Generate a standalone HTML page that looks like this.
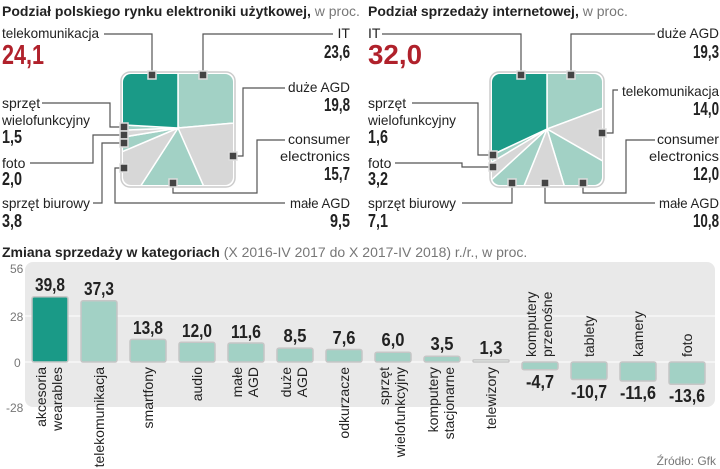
<!DOCTYPE html>
<html><head><meta charset="utf-8"><style>
html,body{margin:0;padding:0;background:#fff}
svg{display:block}
text{font-family:"Liberation Sans Narrow","Liberation Sans",sans-serif;fill:#222}
.t{font-size:14px}
.b{font-weight:bold;font-size:18px}
.r{font-weight:bold;font-size:28px;fill:#b0212b}
.ttl{font-family:"Liberation Sans",sans-serif;font-weight:bold;font-size:14px}
.g{font-weight:normal;fill:#777}
.ax{font-size:12px;fill:#777}
.cl{font-size:14px}
.ln{stroke:#555;stroke-width:1.2;fill:none}
.mk{fill:#444;stroke:#ddd;stroke-width:1.5}
.wd{stroke:#fff;stroke-width:1.5}
</style></head><body>
<svg width="720" height="469" viewBox="0 0 720 469">
<defs>
<clipPath id="c1"><rect x="123" y="74" width="110" height="111" rx="8"/></clipPath>
<clipPath id="c2"><rect x="492" y="74" width="110" height="111" rx="8"/></clipPath>
</defs>
<text x="2" y="16" class="ttl">Podział polskiego rynku elektroniki użytkowej,<tspan class="g"> w proc.</tspan></text>
<text x="368" y="16" class="ttl">Podział sprzedaży internetowej,<tspan class="g"> w proc.</tspan></text>

<rect x="121" y="72" width="114" height="115" rx="9" fill="#fff" stroke="#ccc" stroke-width="1.5"/>
<g clip-path="url(#c1)">
<polygon class="wd" fill="#a2d1c5" points="178,128 178,8 297.5,117.5"/>
<polygon class="wd" fill="#d7d7d7" points="178,128 297.5,117.5 226.4,237.8"/>
<polygon class="wd" fill="#a2d1c5" points="178,128 226.4,237.8 113,228.9"/>
<polygon class="wd" fill="#d7d7d7" points="178,128 113,228.9 67.5,174.9"/>
<polygon class="wd" fill="#a2d1c5" points="178,128 67.5,174.9 59.6,147.6"/>
<polygon class="wd" fill="#d7d7d7" points="178,128 59.6,147.6 58.1,132.6"/>
<polygon class="wd" fill="#a2d1c5" points="178,128 58.1,132.6 58.2,121.3"/>
<polygon class="wd" fill="#1a9a87" points="178,128 58.2,121.3 178,8"/>
</g>
<polyline class="ln" points="104,34 152,34 152,75"/>
<polyline class="ln" points="333,34 203,34 203,75"/>
<polyline class="ln" points="285,88 243,88 243,156 233,156"/>
<polyline class="ln" points="285,140 257,140 257,193 173,193 173,183"/>
<polyline class="ln" points="285,203 115,203 115,168 124,168"/>
<polyline class="ln" points="42,103 110,103 110,127 124,127"/>
<polyline class="ln" points="30,163 93,163 93,135 124,135"/>
<polyline class="ln" points="93,203 102,203 102,143 124,143"/>
<rect class="mk" x="148" y="71" width="8" height="8"/>
<rect class="mk" x="199" y="71" width="8" height="8"/>
<rect class="mk" x="229" y="152" width="8" height="8"/>
<rect class="mk" x="169" y="179" width="8" height="8"/>
<rect class="mk" x="120" y="164" width="8" height="8"/>
<rect class="mk" x="120" y="123" width="8" height="8"/>
<rect class="mk" x="120" y="131" width="8" height="8"/>
<rect class="mk" x="120" y="139" width="8" height="8"/>
<text x="2" y="38" class="t" textLength="97" lengthAdjust="spacingAndGlyphs">telekomunikacja</text>
<text x="2" y="64" class="r" textLength="42" lengthAdjust="spacingAndGlyphs">24,1</text>
<text x="350" y="38" class="t" text-anchor="end">IT</text>
<text x="350" y="58" class="b" text-anchor="end" textLength="26" lengthAdjust="spacingAndGlyphs">23,6</text>
<text x="350" y="92" class="t" text-anchor="end" textLength="62" lengthAdjust="spacingAndGlyphs">duże AGD</text>
<text x="350" y="111" class="b" text-anchor="end" textLength="26" lengthAdjust="spacingAndGlyphs">19,8</text>
<text x="350" y="144" class="t" text-anchor="end" textLength="62" lengthAdjust="spacingAndGlyphs">consumer</text>
<text x="350" y="161" class="t" text-anchor="end" textLength="70" lengthAdjust="spacingAndGlyphs">electronics</text>
<text x="350" y="180" class="b" text-anchor="end" textLength="26" lengthAdjust="spacingAndGlyphs">15,7</text>
<text x="350" y="208" class="t" text-anchor="end" textLength="60" lengthAdjust="spacingAndGlyphs">małe AGD</text>
<text x="350" y="227" class="b" text-anchor="end" textLength="20" lengthAdjust="spacingAndGlyphs">9,5</text>
<text x="2" y="108" class="t">sprzęt</text>
<text x="2" y="125" class="t" textLength="88" lengthAdjust="spacingAndGlyphs">wielofunkcyjny</text>
<text x="2" y="143" class="b" textLength="20" lengthAdjust="spacingAndGlyphs">1,5</text>
<text x="2" y="168" class="t">foto</text>
<text x="2" y="185" class="b" textLength="20" lengthAdjust="spacingAndGlyphs">2,0</text>
<text x="2" y="208" class="t" textLength="88" lengthAdjust="spacingAndGlyphs">sprzęt biurowy</text>
<text x="2" y="227" class="b" textLength="20" lengthAdjust="spacingAndGlyphs">3,8</text>

<rect x="490" y="72" width="114" height="115" rx="9" fill="#fff" stroke="#ccc" stroke-width="1.5"/>
<g clip-path="url(#c2)">
<polygon class="wd" fill="#a2d1c5" points="547,129 547,9 659.4,87"/>
<polygon class="wd" fill="#d7d7d7" points="547,129 659.4,87 651,188.8"/>
<polygon class="wd" fill="#a2d1c5" points="547,129 651,188.8 581.9,243.8"/>
<polygon class="wd" fill="#d7d7d7" points="547,129 581.9,243.8 502,240.3"/>
<polygon class="wd" fill="#a2d1c5" points="547,129 502,240.3 458.5,210.1"/>
<polygon class="wd" fill="#d7d7d7" points="547,129 458.5,210.1 444.1,190.8"/>
<polygon class="wd" fill="#a2d1c5" points="547,129 444.1,190.8 438.4,180.1"/>
<polygon class="wd" fill="#1a9a87" points="547,129 438.4,180.1 443.1,69 547,9"/>
</g>
<polyline class="ln" points="382,34 521,34 521,75"/>
<polyline class="ln" points="655,34 571,34 571,75"/>
<polyline class="ln" points="618,90 613,90 613,133 602,133"/>
<polyline class="ln" points="655,140 626,140 626,193 583,193 583,183"/>
<polyline class="ln" points="655,203 545,203 545,183"/>
<polyline class="ln" points="462,203 512,203 512,183"/>
<polyline class="ln" points="412,103 478,103 478,155 493,155"/>
<polyline class="ln" points="395,163 462,163 462,167 493,167"/>
<rect class="mk" x="517" y="71" width="8" height="8"/>
<rect class="mk" x="567" y="71" width="8" height="8"/>
<rect class="mk" x="598" y="129" width="8" height="8"/>
<rect class="mk" x="579" y="179" width="8" height="8"/>
<rect class="mk" x="541" y="179" width="8" height="8"/>
<rect class="mk" x="508" y="179" width="8" height="8"/>
<rect class="mk" x="489" y="151" width="8" height="8"/>
<rect class="mk" x="489" y="163" width="8" height="8"/>
<text x="368" y="38" class="t">IT</text>
<text x="368" y="64" class="r" textLength="54" lengthAdjust="spacingAndGlyphs">32,0</text>
<text x="719" y="38" class="t" text-anchor="end" textLength="62" lengthAdjust="spacingAndGlyphs">duże AGD</text>
<text x="719" y="58" class="b" text-anchor="end" textLength="26" lengthAdjust="spacingAndGlyphs">19,3</text>
<text x="719" y="96" class="t" text-anchor="end" textLength="97" lengthAdjust="spacingAndGlyphs">telekomunikacja</text>
<text x="719" y="115" class="b" text-anchor="end" textLength="26" lengthAdjust="spacingAndGlyphs">14,0</text>
<text x="719" y="144" class="t" text-anchor="end" textLength="62" lengthAdjust="spacingAndGlyphs">consumer</text>
<text x="719" y="161" class="t" text-anchor="end" textLength="70" lengthAdjust="spacingAndGlyphs">electronics</text>
<text x="719" y="180" class="b" text-anchor="end" textLength="26" lengthAdjust="spacingAndGlyphs">12,0</text>
<text x="719" y="208" class="t" text-anchor="end" textLength="60" lengthAdjust="spacingAndGlyphs">małe AGD</text>
<text x="719" y="227" class="b" text-anchor="end" textLength="26" lengthAdjust="spacingAndGlyphs">10,8</text>
<text x="368" y="108" class="t">sprzęt</text>
<text x="368" y="125" class="t" textLength="88" lengthAdjust="spacingAndGlyphs">wielofunkcyjny</text>
<text x="368" y="143" class="b" textLength="20" lengthAdjust="spacingAndGlyphs">1,6</text>
<text x="368" y="168" class="t">foto</text>
<text x="368" y="185" class="b" textLength="20" lengthAdjust="spacingAndGlyphs">3,2</text>
<text x="368" y="208" class="t" textLength="88" lengthAdjust="spacingAndGlyphs">sprzęt biurowy</text>
<text x="368" y="227" class="b" textLength="20" lengthAdjust="spacingAndGlyphs">7,1</text>

<text x="2" y="257" class="ttl">Zmiana sprzedaży w kategoriach<tspan class="g"> (X 2016-IV 2017 do X 2017-IV 2018) r./r., w proc.</tspan></text>
<rect x="25" y="262" width="690" height="145" rx="8" fill="#e9e9e9"/>
<line x1="25" y1="316" x2="715" y2="316" stroke="#f8f8f8" stroke-width="1.5"/>
<line x1="25" y1="362" x2="715" y2="362" stroke="#f8f8f8" stroke-width="1.5"/>
<text x="10" y="273" class="ax">56</text>
<text x="10" y="321" class="ax">28</text>
<text x="14" y="367" class="ax">0</text>
<text x="6" y="412" class="ax">-28</text>

<g stroke="#c6c6c6" stroke-width="1.5">
<rect x="32" y="296.7" width="36" height="65.3" rx="2" fill="#1a9a87"/>
<rect x="81" y="300.8" width="36" height="61.2" rx="2" fill="#a2d1c5"/>
<rect x="130" y="339.4" width="36" height="22.6" rx="2" fill="#a2d1c5"/>
<rect x="179" y="342.3" width="36" height="19.7" rx="2" fill="#a2d1c5"/>
<rect x="228" y="343" width="36" height="19" rx="2" fill="#a2d1c5"/>
<rect x="277" y="348.1" width="36" height="13.9" rx="2" fill="#a2d1c5"/>
<rect x="326" y="349.5" width="36" height="12.5" rx="2" fill="#a2d1c5"/>
<rect x="375" y="352.2" width="36" height="9.8" rx="2" fill="#a2d1c5"/>
<rect x="424" y="356.3" width="36" height="5.7" rx="2" fill="#a2d1c5"/>
<rect x="473" y="359.9" width="36" height="2.1" rx="1" fill="#eef5f2"/>
<rect x="522" y="362" width="36" height="7.7" rx="2" fill="#a2d1c5"/>
<rect x="571" y="362" width="36" height="17.5" rx="2" fill="#a2d1c5"/>
<rect x="620" y="362" width="36" height="19" rx="2" fill="#a2d1c5"/>
<rect x="669" y="362" width="36" height="22.3" rx="2" fill="#a2d1c5"/>
</g>
<g text-anchor="middle">
<text x="50" y="291" class="b" textLength="30" lengthAdjust="spacingAndGlyphs">39,8</text>
<text x="99" y="295" class="b" textLength="30" lengthAdjust="spacingAndGlyphs">37,3</text>
<text x="148" y="334" class="b" textLength="30" lengthAdjust="spacingAndGlyphs">13,8</text>
<text x="197" y="337" class="b" textLength="30" lengthAdjust="spacingAndGlyphs">12,0</text>
<text x="246" y="338" class="b" textLength="30" lengthAdjust="spacingAndGlyphs">11,6</text>
<text x="295" y="342" class="b" textLength="23" lengthAdjust="spacingAndGlyphs">8,5</text>
<text x="344" y="344" class="b" textLength="23" lengthAdjust="spacingAndGlyphs">7,6</text>
<text x="393" y="346" class="b" textLength="23" lengthAdjust="spacingAndGlyphs">6,0</text>
<text x="442" y="350" class="b" textLength="23" lengthAdjust="spacingAndGlyphs">3,5</text>
<text x="491" y="354" class="b" textLength="23" lengthAdjust="spacingAndGlyphs">1,3</text>
<text x="540" y="388" class="b" textLength="28" lengthAdjust="spacingAndGlyphs">-4,7</text>
<text x="589" y="398" class="b" textLength="36" lengthAdjust="spacingAndGlyphs">-10,7</text>
<text x="638" y="399" class="b" textLength="36" lengthAdjust="spacingAndGlyphs">-11,6</text>
<text x="687" y="402" class="b" textLength="36" lengthAdjust="spacingAndGlyphs">-13,6</text>
</g>
<g text-anchor="end">
<text class="cl" transform="translate(46,367) rotate(-90)">akcesoria</text>
<text class="cl" transform="translate(62,367) rotate(-90)">wearables</text>
<text class="cl" transform="translate(104,367) rotate(-90)">telekomunikacja</text>
<text class="cl" transform="translate(153,367) rotate(-90)">smartfony</text>
<text class="cl" transform="translate(202,367) rotate(-90)">audio</text>
<text class="cl" transform="translate(242,367) rotate(-90)">małe</text>
<text class="cl" transform="translate(258,367) rotate(-90)">AGD</text>
<text class="cl" transform="translate(291,367) rotate(-90)">duże</text>
<text class="cl" transform="translate(307,367) rotate(-90)">AGD</text>
<text class="cl" transform="translate(349,367) rotate(-90)">odkurzacze</text>
<text class="cl" transform="translate(389,367) rotate(-90)">sprzęt</text>
<text class="cl" transform="translate(405,367) rotate(-90)">wielofunkcyjny</text>
<text class="cl" transform="translate(438,367) rotate(-90)">komputery</text>
<text class="cl" transform="translate(454,367) rotate(-90)">stacjonarne</text>
<text class="cl" transform="translate(496,367) rotate(-90)">telewizory</text>
</g>
<g text-anchor="start">
<text class="cl" transform="translate(536,357) rotate(-90)">komputery</text>
<text class="cl" transform="translate(552,357) rotate(-90)">przenośne</text>
<text class="cl" transform="translate(594,357) rotate(-90)">tablety</text>
<text class="cl" transform="translate(643,357) rotate(-90)">kamery</text>
<text class="cl" transform="translate(692,357) rotate(-90)">foto</text>
</g>
<text x="716" y="465" text-anchor="end" style="font-size:12px;fill:#777">Źródło: Gfk</text>
</svg>
</body></html>
